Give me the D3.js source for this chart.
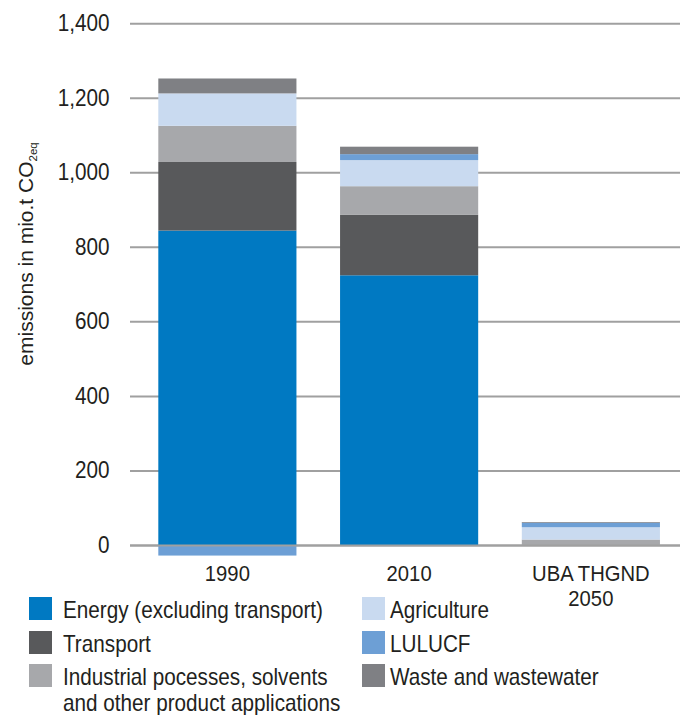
<!DOCTYPE html>
<html lang="en">
<head>
    <meta charset="UTF-8">
    <title>Emissions by sector</title>
    <script src="https://d3js.org/d3.v7.min.js"></script>
    <style>
        body { margin: 0; background: #fff; }
        svg text {
            font-family: "Liberation Sans", Arial, sans-serif;
            fill: #231f20;
        }
        .grid line { stroke: #a0a0a0; stroke-width: 2px; }
    </style>
</head>
<body>
    <svg id="chart" width="680" height="715"></svg>

    <script>
        // categories and sectors
        const categories = ["1990", "2010", "UBA THGND 2050"];
        const sectors = ["Energy (excluding transport)", "Transport",
            "Industrial pocesses, solvents and other product applications",
            "Agriculture", "LULUCF", "Waste and wastewater"];
        const colors = ["#0079c2", "#58595b", "#a7a8ab", "#c9daf0", "#6d9fd5", "#7f8084"];

        // values per sector, in the order of categories (mio.t CO2eq)
        const energy      = [845, 725, 0];
        const transport   = [184, 162, 0];
        const industrial  = [97, 77, 16];
        const agriculture = [87, 70, 33];
        const lulucf      = [-27, 16, 12];
        const waste       = [40, 20, 2];

        const yTicks = [0, 200, 400, 600, 800, 1000, 1200, 1400];

        const series = [energy, transport, industrial, agriculture, lulucf, waste];
        const table = categories.map((c, i) => {
            const row = { cat: c };
            sectors.forEach((s, j) => row[s] = series[j][i]);
            return row;
        });

        const svg = d3.select("#chart");

        // condensed look: regular sans squeezed horizontally
        const squeeze = 0.9;
        function label(parent, x, y, lines, size, anchor, lineGap) {
            const t = parent.append("g")
                .attr("transform", `translate(${x},${y}) scale(${squeeze},1)`)
                .append("text")
                .attr("text-anchor", anchor)
                .style("font-size", size + "px");
            lines.forEach((s, k) => {
                t.append("tspan").attr("x", 0).attr("dy", k === 0 ? 0 : lineGap).text(s);
            });
            return t;
        }

        const x = d3.scaleBand()
            .domain(categories)
            .range([136.5, 681.75])
            .paddingInner(0.24)
            .paddingOuter(0.12);

        const y = d3.scaleLinear()
            .domain([0, 1400])
            .range([545.5, 23.7]);

        // gridlines
        svg.append("g").attr("class", "grid")
            .selectAll("line")
            .data(yTicks)
            .enter().append("line")
            .attr("x1", 130).attr("x2", 680)
            .attr("y1", d => y(d)).attr("y2", d => y(d));

        // y tick labels
        const tickG = svg.append("g");
        yTicks.forEach(d => {
            label(tickG, 109.5, y(d) + 7.5, [d3.format(",")(d)], 23, "end", 0);
        });

        // y axis label
        const yl = svg.append("g")
            .attr("transform", "translate(33,254) rotate(-90)")
            .append("text")
            .attr("text-anchor", "middle")
            .style("font-size", "21px");
        yl.append("tspan").text("emissions in mio.t CO");
        yl.append("tspan").attr("dy", 4).style("font-size", "11.5px").text("2eq");

        // stacked bars
        const stack = d3.stack().keys(sectors).offset(d3.stackOffsetDiverging);
        const stacked = stack(table);

        svg.append("g")
            .selectAll("g")
            .data(stacked)
            .enter().append("g")
            .attr("fill", (d, i) => colors[i])
            .selectAll("rect")
            .data(d => d)
            .enter().append("rect")
            .attr("x", d => x(d.data.cat))
            .attr("width", x.bandwidth())
            .attr("y", d => y(Math.max(d[0], d[1])))
            .attr("height", d => Math.abs(y(d[0]) - y(d[1])));

        // zero line above bars
        svg.append("line")
            .attr("x1", 130).attr("x2", 680)
            .attr("y1", y(0)).attr("y2", y(0))
            .attr("stroke", "#a0a0a0").attr("stroke-width", 2);

        // category labels
        const catLines = { "UBA THGND 2050": ["UBA THGND", "2050"] };
        const catG = svg.append("g");
        categories.forEach(c => {
            label(catG, x(c) + x.bandwidth() / 2, 581, catLines[c] || [c], 22.5, "middle", 25);
        });

        // legend
        const legendLines = [
            ["Energy (excluding transport)"],
            ["Transport"],
            ["Industrial pocesses, solvents", "and other product applications"],
            ["Agriculture"],
            ["LULUCF"],
            ["Waste and wastewater"]
        ];
        const legendBox = [[29, 597], [29, 631], [29, 664], [362, 597], [362, 631], [362, 664]];
        const legendTextX = [63, 63, 63, 390, 390, 390];

        const lg = svg.append("g");
        sectors.forEach((s, i) => {
            lg.append("rect")
                .attr("x", legendBox[i][0]).attr("y", legendBox[i][1])
                .attr("width", 23).attr("height", 23)
                .attr("fill", colors[i]);
            label(lg, legendTextX[i], legendBox[i][1] + 21, legendLines[i], 23, "start", 26);
        });
    </script>
</body>
</html>
